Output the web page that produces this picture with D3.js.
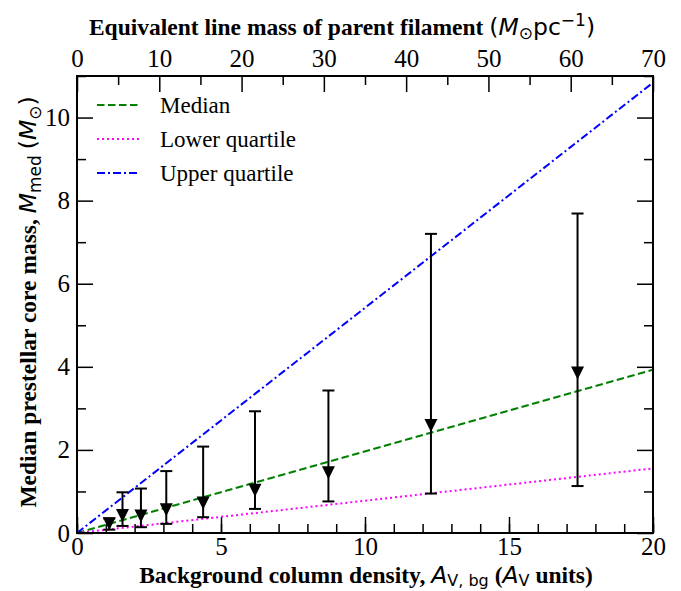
<!DOCTYPE html>
<html>
<head>
  <script src="https://d3js.org/d3.v7.min.js"></script>
  <style>
    body { margin: 0; background: #fff; }
    .domain { display: none; }
    .tick line { stroke: #000; stroke-width: 1.5; }
    .title { font-family: "Liberation Serif", serif; font-weight: bold; font-size: 23.5px; fill: #000; }
    .math { font-family: "DejaVu Sans", sans-serif; font-weight: normal; }
    .legend text { font-family: "Liberation Serif", serif; font-size: 23px; fill: #000; }
  </style>
</head>
<body>
  <svg id="chart" width="681" height="591"></svg>

  <script>
    // measured points: background A_V, median core mass and quartile range
    const avBg = [1.12, 1.58, 2.22, 3.10, 4.38, 6.18, 8.73, 12.29, 17.38];
    const medMass = [0.22, 0.42, 0.41, 0.56, 0.72, 1.03, 1.45, 2.59, 3.85];
    const lowMass = [0.08, 0.17, 0.14, 0.22, 0.38, 0.58, 0.76, 0.95, 1.13];
    const highMass = [0.35, 0.98, 1.07, 1.49, 2.08, 2.93, 3.43, 7.20, 7.69];

    // fitted lines (endpoints)
    const lineX = [0, 20];
    const medianLine = [0, 3.93];
    const lowerLine = [0, 1.555];
    const upperLine = [0, 10.84];

    const xMajor = [0, 5, 10, 15, 20];
    const xMinor = d3.range(0, 21, 1);
    const yMajor = [0, 2, 4, 6, 8, 10];
    const yMinor = [1, 3, 5, 7, 9, 11];
    const topMajor = [0, 10, 20, 30, 40, 50, 60, 70];
    const topMinor = [5, 15, 25, 35, 45, 55, 65];

    const svg = d3.select("#chart");
    const margin = { top: 76, right: 28, bottom: 58, left: 77 };
    const width = 681 - margin.left - margin.right;
    const height = 591 - margin.top - margin.bottom;

    const x = d3.scaleLinear().domain([0, 20]).range([0, width]);
    const xTop = d3.scaleLinear().domain([0, 70]).range([0, width]);
    const y = d3.scaleLinear().domain([0, 11]).range([height, 0]);

    const g = svg.append("g")
      .attr("transform", `translate(${margin.left}, ${margin.top})`);

    g.append("clipPath").attr("id", "clip")
      .append("rect").attr("width", width).attr("height", height);

    // serif tick labels (override d3's sans-serif default)
    function serif(sel) {
      sel.attr("font-family", null).attr("font-size", null);
      sel.selectAll("text")
        .style("font-family", "'Liberation Serif', 'Times New Roman', serif")
        .style("font-size", "25px")
        .style("fill", "#000");
    }

    // axes, ticks pointing inward
    g.append("g").attr("transform", `translate(0, ${height})`)
      .call(d3.axisBottom(x).tickValues(xMinor).tickSize(-9).tickFormat(""));
    g.append("g").attr("transform", `translate(0, ${height})`)
      .call(d3.axisBottom(x).tickValues(xMajor).tickSize(-16).tickPadding(4))
      .call(serif);

    g.append("g")
      .call(d3.axisTop(xTop).tickValues(topMinor).tickSize(-9).tickFormat(""));
    g.append("g")
      .call(d3.axisTop(xTop).tickValues(topMajor).tickSize(-16).tickPadding(9))
      .call(serif);

    g.append("g")
      .call(d3.axisLeft(y).tickValues(yMinor).tickSize(-9).tickFormat(""));
    g.append("g")
      .call(d3.axisLeft(y).tickValues(yMajor).tickSize(-16).tickPadding(7))
      .call(serif);

    g.append("g").attr("transform", `translate(${width}, 0)`)
      .call(d3.axisRight(y).tickValues(yMinor).tickSize(-9).tickFormat(""));
    g.append("g").attr("transform", `translate(${width}, 0)`)
      .call(d3.axisRight(y).tickValues(yMajor).tickSize(-16).tickFormat(""));

    // fitted lines
    const lines = [
      { vals: medianLine, color: "#008000", dash: "7.5,3.5", name: "Median" },
      { vals: lowerLine, color: "#ff00ff", dash: "2,3", name: "Lower quartile" },
      { vals: upperLine, color: "#0000ff", dash: "8,3,2,3", name: "Upper quartile" }
    ];
    const lineGen = d3.line().x((d, i) => x(lineX[i])).y(d => y(d));
    g.append("g").attr("clip-path", "url(#clip)")
      .selectAll("path").data(lines).enter().append("path")
      .attr("d", d => lineGen(d.vals))
      .attr("fill", "none")
      .attr("stroke", d => d.color)
      .attr("stroke-width", 2)
      .attr("stroke-dasharray", d => d.dash);

    // error bars
    const pts = avBg.map((a, i) => ({ a: a, m: medMass[i], lo: lowMass[i], hi: highMass[i] }));
    const eb = g.append("g").selectAll("g").data(pts).enter().append("g");
    eb.append("line")
      .attr("x1", d => x(d.a)).attr("x2", d => x(d.a))
      .attr("y1", d => y(d.lo)).attr("y2", d => y(d.hi))
      .attr("stroke", "#000").attr("stroke-width", 2);
    eb.append("line")
      .attr("x1", d => x(d.a) - 6).attr("x2", d => x(d.a) + 6)
      .attr("y1", d => y(d.hi)).attr("y2", d => y(d.hi))
      .attr("stroke", "#000").attr("stroke-width", 2);
    eb.append("line")
      .attr("x1", d => x(d.a) - 6).attr("x2", d => x(d.a) + 6)
      .attr("y1", d => y(d.lo)).attr("y2", d => y(d.lo))
      .attr("stroke", "#000").attr("stroke-width", 2);
    const s = 6.5;
    eb.append("path")
      .attr("d", d => {
        const cx = x(d.a), cy = y(d.m);
        return `M${cx - s},${cy - s}L${cx + s},${cy - s}L${cx},${cy + s}Z`;
      })
      .attr("fill", "#000");

    // frame
    g.append("rect")
      .attr("width", width).attr("height", height)
      .attr("fill", "none").attr("stroke", "#000").attr("stroke-width", 2);

    // legend
    const leg = g.append("g").attr("class", "legend")
      .selectAll("g").data(lines).enter().append("g")
      .attr("transform", (d, i) => `translate(20, ${29 + i * 34})`);
    leg.append("line")
      .attr("x1", 0).attr("x2", 43)
      .attr("stroke", d => d.color).attr("stroke-width", 2)
      .attr("stroke-dasharray", d => d.dash);
    leg.append("text")
      .attr("x", 63).attr("y", 8)
      .text(d => d.name);

    // titles
    const topTitle = svg.append("text").attr("class", "title")
      .attr("x", 342).attr("y", 35).attr("text-anchor", "middle");
    topTitle.append("tspan").text("Equivalent line mass of parent filament ");
    topTitle.append("tspan").attr("class", "math").text("(");
    topTitle.append("tspan").attr("class", "math").attr("font-style", "italic").text("M");
    topTitle.append("tspan").attr("class", "math").attr("font-size", 17).attr("dy", 4).text("⊙");
    topTitle.append("tspan").attr("class", "math").attr("dy", -4).text("pc");
    topTitle.append("tspan").attr("class", "math").attr("font-size", 17).attr("dy", -9).text("−1");
    topTitle.append("tspan").attr("class", "math").attr("dy", 9).text(")");

    const botTitle = svg.append("text").attr("class", "title")
      .attr("x", 366).attr("y", 583).attr("text-anchor", "middle");
    botTitle.append("tspan").text("Background column density, ");
    botTitle.append("tspan").attr("class", "math").attr("font-style", "italic").text("A");
    botTitle.append("tspan").attr("class", "math").attr("font-size", 16).attr("dy", 3).text("V, bg");
    botTitle.append("tspan").attr("dy", -3).text(" (");
    botTitle.append("tspan").attr("class", "math").attr("font-style", "italic").text("A");
    botTitle.append("tspan").attr("class", "math").attr("font-size", 16).attr("dy", 3).text("V");
    botTitle.append("tspan").attr("dy", -3).text(" units)");

    const leftTitle = svg.append("text").attr("class", "title")
      .attr("transform", "translate(36, 302) rotate(-90)")
      .attr("text-anchor", "middle");
    leftTitle.append("tspan").text("Median prestellar core mass, ");
    leftTitle.append("tspan").attr("class", "math").attr("font-style", "italic").text("M");
    leftTitle.append("tspan").attr("class", "math").attr("font-size", 17).attr("dy", 5).text("med");
    leftTitle.append("tspan").attr("dy", -5).text(" ");
    leftTitle.append("tspan").attr("class", "math").text("(");
    leftTitle.append("tspan").attr("class", "math").attr("font-style", "italic").text("M");
    leftTitle.append("tspan").attr("class", "math").attr("font-size", 17).attr("dy", 5).text("⊙");
    leftTitle.append("tspan").attr("class", "math").attr("dy", -5).text(")");
  </script>
</body>
</html>
